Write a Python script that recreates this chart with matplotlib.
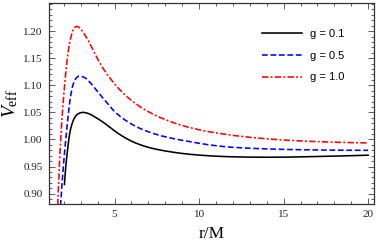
import matplotlib
matplotlib.use("Agg")
import matplotlib.pyplot as plt
from matplotlib.ticker import MultipleLocator, FixedLocator

plt.rcParams["mathtext.fontset"] = "custom"
plt.rcParams["mathtext.rm"] = "Liberation Serif"
plt.rcParams["mathtext.it"] = "Liberation Serif:italic"

# g = 0.1 (black, solid)
r_g01 = [2.04, 2.08, 2.12, 2.18, 2.25, 2.32, 2.40, 2.50, 2.60, 2.70, 2.80, 2.95, 3.10, 3.25,
         3.40, 3.60, 3.82, 4.00, 4.25, 4.50, 4.75, 5.00, 5.25, 5.50, 5.75, 6.00, 6.25, 6.50,
         6.75, 7.00, 7.35, 7.70, 8.00, 8.50, 9.00, 9.50, 10.0, 10.5, 11.0, 11.5, 12.0, 13.0,
         14.0, 15.0, 16.0, 17.0, 18.0, 19.0, 20.0]
V_g01 = [0.917, 0.935, 0.950, 0.969, 0.988, 1.005, 1.019, 1.030, 1.038, 1.043, 1.0465, 1.049,
         1.050, 1.0497, 1.0485, 1.0460, 1.0420, 1.0385, 1.0335, 1.0280, 1.0220, 1.0160,
         1.0105, 1.0055, 1.0010, 0.9970, 0.9935, 0.9905, 0.9878, 0.9855, 0.9828, 0.9805,
         0.9788, 0.9763, 0.9742, 0.9725, 0.9712, 0.9701, 0.9692, 0.9685, 0.9680, 0.9674,
         0.9672, 0.9674, 0.9679, 0.9686, 0.9693, 0.9701, 0.9710]

# g = 0.5 (blue, dashed)
r_g05 = [1.78, 1.82, 1.90, 1.98, 2.06, 2.12, 2.20, 2.27, 2.35, 2.42, 2.50, 2.60, 2.70, 2.80,
         2.90, 3.00, 3.15, 3.30, 3.50, 3.65, 3.82, 4.00, 4.30, 4.60, 5.00, 5.30, 5.60, 6.00,
         6.40, 6.80, 7.35, 7.80, 8.50, 9.00, 10.0, 10.5, 11.0, 11.5, 12.0, 13.0, 14.0, 15.0,
         16.0, 17.0, 18.0, 19.0, 20.0]
V_g05 = [0.862, 0.883, 0.920, 0.952, 0.981, 1.000, 1.026, 1.047, 1.068, 1.083, 1.096, 1.106,
         1.112, 1.1155, 1.117, 1.1168, 1.1155, 1.113, 1.107, 1.102, 1.0955, 1.0885, 1.077,
         1.066, 1.0515, 1.0435, 1.0365, 1.0285, 1.0220, 1.0165, 1.0105, 1.0065, 1.0015,
         0.9985, 0.9930, 0.9905, 0.9885, 0.9868, 0.9855, 0.9838, 0.9826, 0.9817, 0.9811,
         0.9806, 0.9803, 0.9801, 0.9800]

# g = 1.0 (red, dash-dot)
r_g10 = [1.62, 1.65, 1.69, 1.73, 1.78, 1.84, 1.90, 1.98, 2.05, 2.12, 2.20, 2.27, 2.35, 2.45,
         2.55, 2.65, 2.75, 2.85, 2.95, 3.10, 3.25, 3.45, 3.65, 3.82, 4.00, 4.30, 4.60, 5.00,
         5.30, 5.60, 6.00, 6.40, 6.80, 7.30, 7.80, 8.50, 9.00, 9.50, 10.0, 10.5, 11.0, 12.0,
         13.0, 14.0, 15.0, 16.0, 17.0, 18.0, 19.0, 20.0]
V_g10 = [0.855, 0.883, 0.915, 0.944, 0.977, 1.010, 1.040, 1.074, 1.1005, 1.1240, 1.1470,
         1.1635, 1.1790, 1.1925, 1.2018, 1.2070, 1.2088, 1.2083, 1.2057, 1.2000, 1.1930,
         1.1825, 1.1705, 1.1600, 1.1487, 1.1325, 1.1187, 1.1027, 1.0922, 1.0829, 1.0721,
         1.0629, 1.0549, 1.0464, 1.0392, 1.0308, 1.0259, 1.0216, 1.0180, 1.0148, 1.0121,
         1.0076, 1.0040, 1.0012, 0.9990, 0.9973, 0.9960, 0.9950, 0.9942, 0.9936]

labels = ["g = 0.1", "g = 0.5", "g = 1.0"]
x_ticks = [5, 10, 15, 20]
y_ticks = [0.90, 0.95, 1.00, 1.05, 1.10, 1.15, 1.20]

fig = plt.figure(figsize=(3.79, 2.49), dpi=100)
ax = fig.add_axes([0.129, 0.181, 0.858, 0.807])

ax.plot(r_g01, V_g01, color="black", lw=1.15, ls="-", label=labels[0])
ax.plot(r_g05, V_g05, color="blue", lw=1.15, ls=(0, (3.6, 1.7)), label=labels[1])
ax.plot(r_g10, V_g10, color="red", lw=1.15, ls=(0, (4, 1.4, 1.2, 1.4)), label=labels[2])

ax.set_xlim(1.12, 20.35)
ax.set_ylim(0.881, 1.252)

serif = "Liberation Serif"
ax.xaxis.set_major_locator(FixedLocator(x_ticks))
ax.xaxis.set_minor_locator(MultipleLocator(1))
ax.yaxis.set_major_locator(FixedLocator(y_ticks))
ax.yaxis.set_minor_locator(MultipleLocator(0.01))
ax.set_xticklabels([str(t) for t in x_ticks], fontfamily=serif, fontsize=8)
ax.set_yticklabels([f"{t:.2f}" for t in y_ticks], fontfamily=serif, fontsize=8)
ax.tick_params(which="both", direction="in", top=True, right=True, color="#444444",
               labelcolor="#222222", width=0.6)
ax.tick_params(which="major", length=4, pad=4.5)
ax.tick_params(which="minor", length=2)
for s in ax.spines.values():
    s.set_linewidth(0.9)
    s.set_color("#333333")

ax.set_xlabel("r/M", fontfamily=serif, fontsize=12.5, labelpad=5)
ax.set_ylabel(r"$V_{\mathrm{eff}}$", fontsize=14, labelpad=2)

leg = ax.legend(loc="upper left", bbox_to_anchor=(0.655, 0.87), frameon=False,
                borderpad=0, borderaxespad=0,
                prop={"family": "Liberation Sans", "size": 8}, handlelength=3.6,
                labelspacing=1.05, handletextpad=0.75)

fig.savefig("out.png", dpi=100)
